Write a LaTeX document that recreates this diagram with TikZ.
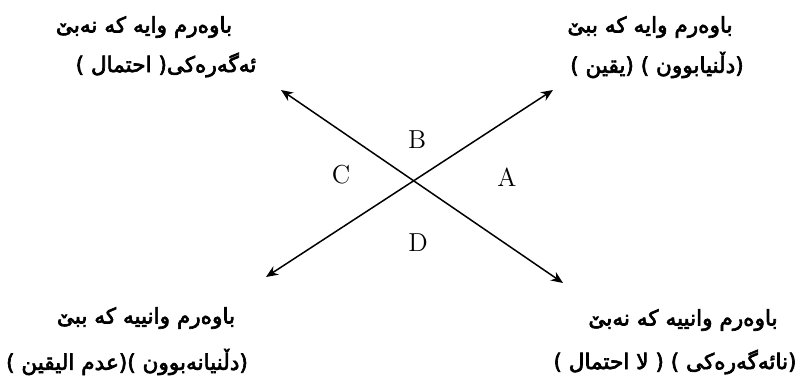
\documentclass[tikz,border=0pt]{standalone}
\usepackage{fontspec}
\newfontfamily\kurdfont[Script=Arabic,FakeBold=3]{DejaVu Sans}
\TeXXeTstate=1
\usetikzlibrary{arrows.meta}

\begin{document}
\begin{tikzpicture}[x=0.5pt,y=-0.5pt, line width=0.75pt, line cap=round,
    kurd/.style={inner sep=0pt, font=\kurdfont\fontsize{10.8}{13}\selectfont},
    letter/.style={inner sep=0pt, font=\fontsize{13}{15}\selectfont},
    bothways/.style={{Stealth[length=6pt,width=5pt]}-{Stealth[length=6pt,width=5pt]}}]
  \useasboundingbox (0,0) rectangle (795,384);
  % the two crossing lines
  \coordinate (mid) at (413,181);
  \coordinate (sw) at (266,277);
  \coordinate (ne) at (553,90);
  \coordinate (nw) at (281,90);
  \coordinate (se) at (563,283);
  \draw[bothways] (sw) -- (ne);
  \draw[bothways] (nw) -- (se);
  % quadrant letters
  \node[letter] (qb) at (417,140) {B};
  \node[letter] (qc) at (341,175) {C};
  \node[letter] (qa) at (507,177) {A};
  \node[letter] (qd) at (418,243) {D};
  % top left corner
  \node[kurd] (tl1) at (144,27) {\beginR باوەرم وایە کە نەبێ\endR};
  \node[kurd] (tl2) at (166,65) {\beginR ئەگەرەکی( احتمال )\endR};
  % top right corner
  \node[kurd] (tr1) at (650,27) {\beginR باوەرم وایە کە ببێ\endR};
  \node[kurd] (tr2) at (657,65) {\beginR (دڵنیابوون ) (یقین )\endR};
  % bottom left corner
  \node[kurd] (bl1) at (146,318) {\beginR باوەرم وانییە کە ببێ\endR};
  \node[kurd] (bl2) at (127,362) {\beginR (دڵنیانەبوون )(عدم الیقین )\endR};
  % bottom right corner
  \node[kurd] (br1) at (683,320) {\beginR باوەرم وانییە کە نەبێ\endR};
  \node[kurd] (br2) at (675,362) {\beginR (نائەگەرەکی ) ( لا احتمال )\endR};
\end{tikzpicture}
\end{document}
